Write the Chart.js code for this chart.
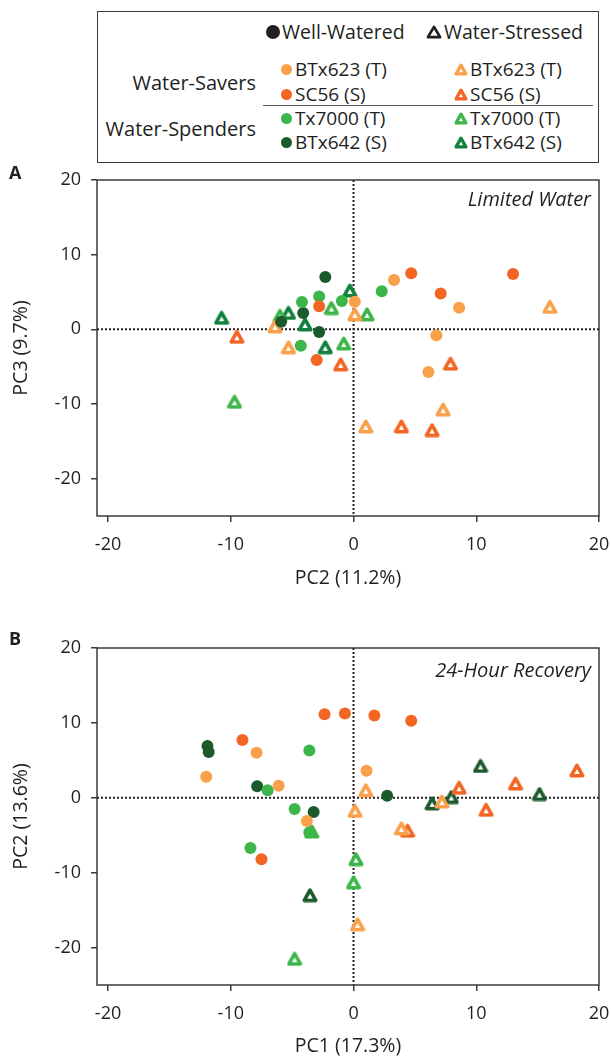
<!DOCTYPE html>
<html>
<head>
<meta charset="utf-8">
<script src="https://cdn.jsdelivr.net/npm/chart.js@4.4.1/dist/chart.umd.min.js"></script>
<style>
  html,body{margin:0;padding:0;background:#fff;}
  body{width:611px;height:1061px;position:relative;overflow:hidden;font-family:"Open Sans","Noto Sans",sans-serif;color:#231f20;}
  .abs{position:absolute;white-space:nowrap;}
  canvas{position:absolute;left:0;}
  #legend{position:absolute;left:97px;top:11px;width:500px;height:150px;border:1.5px solid #3a3a3a;}
  .lg{position:absolute;white-space:nowrap;font-size:19px;line-height:20px;}
  .dot{position:absolute;border-radius:50%;}
</style>
</head>
<body>
<div id="legend"></div>
<canvas id="cA" width="611" height="425" style="top:165px"></canvas>
<canvas id="cB" width="611" height="431" style="top:630px"></canvas>
<div class="abs" style="left:9px;top:161px;font-size:18px;font-weight:bold;line-height:22px;">A</div>
<div class="abs" style="left:9px;top:627px;font-size:18px;font-weight:bold;line-height:22px;">B</div>
<div class="abs" style="right:20px;top:186px;font-size:20px;font-style:italic;line-height:26px;">Limited Water</div>
<div class="abs" style="right:20px;top:657px;font-size:20px;font-style:italic;line-height:26px;">24-Hour Recovery</div>
<script>
// ---------------- DATA ----------------
const genotypes = ["BTx623 (T)", "SC56 (S)", "Tx7000 (T)", "BTx642 (S)"];
const treatments = ["Well-Watered", "Water-Stressed"];
const groups = ["Water-Savers", "Water-Spenders"];
const xTicks = [-20, -10, 0, 10, 20];
const yTicks = [-20, -10, 0, 10, 20];
const titleA = "Limited Water";
const titleB = "24-Hour Recovery";
const axisA = {x: "PC2 (11.2%)", y: "PC3 (9.7%)"};
const axisB = {x: "PC1 (17.3%)", y: "PC2 (13.6%)"};

// Panel A: Limited Water  [PC2, PC3]
const A_BTx623_WW = [[3.3,6.6],[0.1,3.7],[8.6,2.9],[6.75,-0.8],[6.1,-5.7]];
const A_SC56_WW   = [[4.7,7.5],[13.0,7.4],[7.1,4.8],[-2.8,3.1],[-3.0,-4.1]];
const A_Tx7000_WW = [[2.3,5.1],[-0.95,3.8],[-2.8,4.4],[-4.2,3.65],[-4.3,-2.2]];
const A_BTx642_WW = [[-2.3,7.0],[-4.1,2.2],[-2.8,-0.35],[-5.9,1.0]];
const A_BTx623_WS = [[-6.4,0.4],[-5.3,-2.4],[0.1,2.0],[16.0,3.0],[7.3,-10.75],[1.0,-13.0]];
const A_SC56_WS   = [[-9.5,-1.0],[-1.05,-4.7],[7.9,-4.6],[3.9,-13.0],[6.4,-13.5]];
const A_Tx7000_WS = [[-1.8,2.85],[1.1,2.0],[-6.0,1.8],[-0.8,-1.9],[-9.7,-9.7]];
const A_BTx642_WS = [[-0.3,5.2],[-10.75,1.55],[-5.3,2.2],[-3.95,0.65],[-2.3,-2.4]];

// Panel B: 24-Hour Recovery  [PC1, PC2]
const B_BTx623_WW = [[-12.0,2.8],[-7.9,6.0],[-6.1,1.6],[-3.8,-3.1],[1.06,3.6]];
const B_SC56_WW   = [[-9.05,7.7],[-2.36,11.15],[-0.7,11.25],[1.7,11.0],[4.7,10.3],[-7.5,-8.2]];
const B_Tx7000_WW = [[-3.6,6.3],[-7.0,1.0],[-4.8,-1.5],[-3.6,-4.6],[-8.4,-6.7]];
const B_BTx642_WW = [[-11.9,6.9],[-11.8,6.1],[-7.85,1.55],[-3.25,-1.9],[2.74,0.27]];
const B_BTx623_WS = [[0.13,-1.75],[1.0,1.0],[7.2,-0.5],[3.9,-4.1],[0.33,-16.9]];
const B_SC56_WS   = [[8.6,1.34],[13.2,1.9],[18.2,3.65],[10.8,-1.6],[4.4,-4.4]];
const B_Tx7000_WS = [[-3.4,-4.5],[0.2,-8.2],[0.0,-11.3],[-4.8,-21.5]];
const B_BTx642_WS = [[-3.55,-13.0],[6.4,-0.75],[7.97,0.1],[10.35,4.25],[15.15,0.5]];

// ---------------- STYLE ----------------
const colBTx623 = "#f9a04b";
const colSC56 = "#f26523";
const colTx7000 = "#3cb54a";
const colBTx642 = "#1c5a2d";
const colBTx642triA = "#10803c";
const FONT = '"Open Sans","Noto Sans",sans-serif';

function triCanvas(color, w, h, lw){
  const c = document.createElement('canvas');
  c.width = w; c.height = h;
  const g = c.getContext('2d');
  const pad = lw/2 + 0.5;
  g.beginPath();
  g.moveTo(w/2, pad);
  g.lineTo(w - pad, h - pad);
  g.lineTo(pad, h - pad);
  g.closePath();
  g.fillStyle = '#fff';
  g.fill();
  g.lineJoin = 'round';
  g.lineWidth = lw;
  g.strokeStyle = color;
  g.stroke();
  return c;
}
function toPts(arr){ return arr.map(p => ({x:p[0], y:p[1]})); }

function circleDS(label, arr, color){
  return {label, data: toPts(arr), pointStyle:'circle', pointRadius:6, pointBackgroundColor:color, pointBorderWidth:0, pointBorderColor:color, showLine:false};
}
function triDS(label, arr, color){
  return {label, data: toPts(arr), pointStyle: triCanvas(color, 16, 15, 3.6), pointRadius:7, showLine:false};
}

const framePlugin = {
  id:'frame',
  beforeDatasetsDraw(chart){
    const {ctx, chartArea:a, scales:{x,y}} = chart;
    const x0 = x.getPixelForValue(0), y0 = y.getPixelForValue(0);
    ctx.save();
    ctx.strokeStyle = '#231f20';
    ctx.lineWidth = 2;
    ctx.setLineDash([2,2]);
    ctx.beginPath();
    ctx.moveTo(x0, a.top); ctx.lineTo(x0, a.bottom);
    ctx.moveTo(a.left, y0); ctx.lineTo(a.right, y0);
    ctx.stroke();
    ctx.restore();
  },
  afterDraw(chart){
    const {ctx, chartArea:a} = chart;
    ctx.save();
    ctx.strokeStyle = '#3a3a3a';
    ctx.lineWidth = 1.5;
    ctx.strokeRect(a.left, a.top, a.right - a.left, a.bottom - a.top);
    ctx.restore();
  }
};

function makeChart(id, datasets, axis, topPad, xH, xTitlePad){
  return new Chart(document.getElementById(id), {
    type:'scatter',
    data:{datasets},
    plugins:[framePlugin],
    options:{
      responsive:false, animation:false, devicePixelRatio:1, events:[],
      layout:{padding:{left:0, right:12, top:topPad, bottom:0}},
      plugins:{legend:{display:false}, tooltip:{enabled:false}},
      scales:{
        x:{
          type:'linear', min:-20.9, max:20,
          afterBuildTicks: s => { s.ticks = xTicks.map(v => ({value:v})); },
          afterFit: s => { s.height = xH; s.paddingLeft = 0; s.paddingRight = 0; },
          grid:{drawOnChartArea:false, drawTicks:true, tickLength:6, color:'#3a3a3a', lineWidth:1.5},
          border:{display:false},
          ticks:{color:'#231f20', font:{family:FONT, size:18}, padding:12, maxRotation:0},
          title:{display:true, text:axis.x, color:'#231f20', font:{family:FONT, size:19.5}, padding:{top:0, bottom:xTitlePad}}
        },
        y:{
          type:'linear', min:-25, max:20,
          afterBuildTicks: s => { s.ticks = yTicks.map(v => ({value:v})); },
          afterFit: s => { s.width = 97; s.paddingTop = 0; s.paddingBottom = 0; },
          grid:{drawOnChartArea:false, drawTicks:true, tickLength:6, color:'#3a3a3a', lineWidth:1.5},
          border:{display:false},
          ticks:{color:'#231f20', font:{family:FONT, size:18}, padding:10},
          title:{display:true, text:axis.y, color:'#231f20', font:{family:FONT, size:19.5}, padding:{top:10, bottom:0}}
        }
      }
    }
  });
}

makeChart('cA', [
  circleDS(genotypes[0]+' WW', A_BTx623_WW, colBTx623),
  circleDS(genotypes[1]+' WW', A_SC56_WW, colSC56),
  circleDS(genotypes[2]+' WW', A_Tx7000_WW, colTx7000),
  circleDS(genotypes[3]+' WW', A_BTx642_WW, colBTx642),
  triDS(genotypes[0]+' WS', A_BTx623_WS, colBTx623),
  triDS(genotypes[1]+' WS', A_SC56_WS, colSC56),
  triDS(genotypes[2]+' WS', A_Tx7000_WS, colTx7000),
  triDS(genotypes[3]+' WS', A_BTx642_WS, colBTx642triA)
], axisA, 15, 74, 0);

makeChart('cB', [
  circleDS(genotypes[0]+' WW', B_BTx623_WW, colBTx623),
  circleDS(genotypes[1]+' WW', B_SC56_WW, colSC56),
  circleDS(genotypes[2]+' WW', B_Tx7000_WW, colTx7000),
  circleDS(genotypes[3]+' WW', B_BTx642_WW, colBTx642),
  triDS(genotypes[0]+' WS', B_BTx623_WS, colBTx623),
  triDS(genotypes[1]+' WS', B_SC56_WS, colSC56),
  triDS(genotypes[2]+' WS', B_Tx7000_WS, colTx7000),
  triDS(genotypes[3]+' WS', B_BTx642_WS, colBTx642)
], axisB, 18, 76, 3);

// ---------------- LEGEND (HTML) ----------------
(function(){
  const L = document.getElementById('legend');
  const ox = 97, oy = 11;
  function add(html, x, y, style){
    const d = document.createElement('div');
    d.className = 'lg';
    d.style.left = (x - ox) + 'px';
    d.style.top = (y - oy - 10) + 'px';
    if (style) d.style.cssText += style;
    d.innerHTML = html;
    L.appendChild(d);
    return d;
  }
  function dot(cx, cy, r, color){
    const d = document.createElement('div');
    d.className = 'dot';
    d.style.left = (cx - r - ox) + 'px';
    d.style.top = (cy - r - oy) + 'px';
    d.style.width = (2*r) + 'px';
    d.style.height = (2*r) + 'px';
    d.style.background = color;
    L.appendChild(d);
  }
  function tri(cx, cy, color, w, h, lw){
    const c = triCanvas(color, w, h, lw);
    c.style.position = 'absolute';
    c.style.left = (cx - w/2 - ox) + 'px';
    c.style.top = (cy - h/2 - oy) + 'px';
    L.appendChild(c);
  }
  // header
  dot(272, 31, 7, '#231f20');
  add(treatments[0], 281, 31, 'font-size:19.5px;');
  tri(433, 31, '#231f20', 16, 14, 2.8);
  add(treatments[1], 443, 31, 'font-size:19.5px;');
  // group labels
  add(groups[0], 0, 82, 'font-size:20px;left:auto;right:' + (597 - 255) + 'px;');
  add(groups[1], 0, 128, 'font-size:20px;left:auto;right:' + (597 - 255) + 'px;');
  // separator
  const sep = document.createElement('div');
  sep.style.cssText = 'position:absolute;left:' + (262-ox) + 'px;top:' + (104-oy) + 'px;width:330px;height:0;border-top:1px solid #555;';
  L.appendChild(sep);
  // entries
  const rowsY = [68, 93, 117, 141];
  const wwCols = [colBTx623, colSC56, colTx7000, colBTx642];
  const wsCols = [colBTx623, colSC56, colTx7000, colBTx642triA];
  genotypes.forEach((g, i) => {
    dot(285, rowsY[i], 5.5, wwCols[i]);
    add(g, 294, rowsY[i]);
    tri(460, rowsY[i], wsCols[i], 14, 13, 3.2);
    add(g, 469, rowsY[i]);
  });
})();
</script>
</body>
</html>
